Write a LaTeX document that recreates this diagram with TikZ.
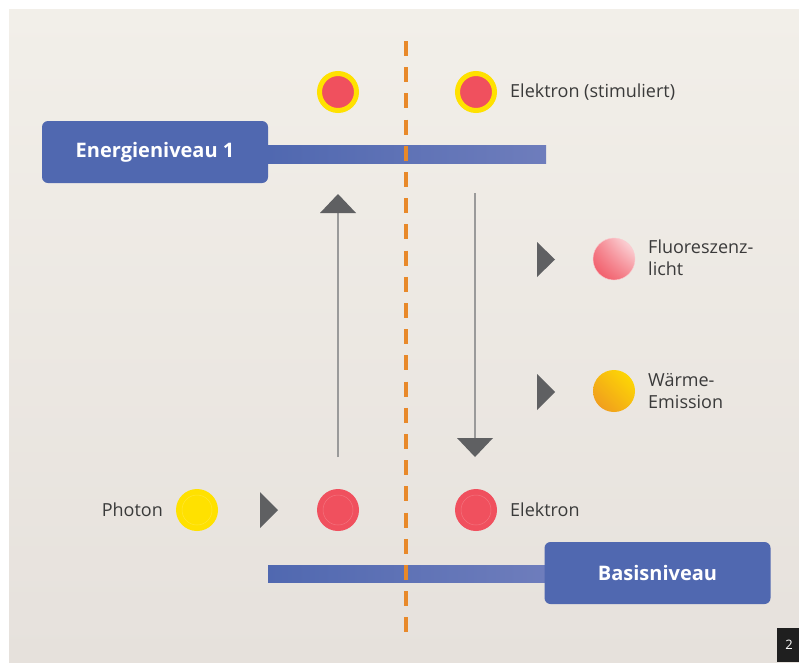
\documentclass[tikz,border=0pt]{standalone}
\usepackage{fontspec}
\setmainfont{Open Sans}
\usetikzlibrary{calc,shadings}
\definecolor{bgtop}{HTML}{F2EFE9}
\definecolor{bgbot}{HTML}{E6E1DC}
\definecolor{levelblue}{HTML}{5068B0}
\definecolor{barright}{HTML}{6E7DBC}
\definecolor{dashorange}{HTML}{E8892A}
\definecolor{elred}{HTML}{F0505E}
\definecolor{phyellow}{HTML}{FFE100}
\definecolor{warmorange}{HTML}{EE9322}
\definecolor{headgrey}{HTML}{5F6062}
\definecolor{linegrey}{HTML}{9A9A9A}
\definecolor{txtgrey}{HTML}{3A3A3A}
\tikzset{
  levelbox/.style={fill=levelblue, rounded corners=6pt, minimum width=226pt, minimum height=62pt, inner sep=0pt, text=white, font=\fontsize{20}{24}\selectfont\bfseries},
  levelbar/.style={left color=levelblue, right color=barright, draw=none},
  stimel/.style={circle, fill=elred, draw=phyellow, line width=5pt, minimum size=37pt, inner sep=0pt},
  electron/.style={circle, fill=elred, minimum size=42pt, inner sep=0pt},
  photonball/.style={circle, fill=phyellow, minimum size=42pt, inner sep=0pt},
  innerring/.style={draw=white, draw opacity=0.2, line width=0.5pt},
  lbl/.style={text=txtgrey, font=\fontsize{18}{22}\selectfont, inner sep=0pt},
  playhead/.style={fill=headgrey, draw=none},
  vline/.style={draw=linegrey, line width=2pt},
  dashline/.style={draw=dashorange, line width=4.5pt, dash pattern=on 15pt off 11.2pt},
}
\begin{document}
\begin{tikzpicture}[x=1pt, y=-1pt]
\useasboundingbox (0,0) rectangle (799,662);
\fill[white] (0,0) rectangle (799,662);
\shade[top color=bgtop, bottom color=bgbot] (9,9) rectangle (799,662);

% energy bars
\fill[levelbar] (268,145) rectangle (546,163);
\fill[levelbar] (268,565) rectangle (546,582);

% level boxes
\node[levelbox] (lev1) at (155,152) {Energieniveau 1};
\node[levelbox] (base) at (657.5,573) {Basisniveau};

% dashed separator
\coordinate (dtop) at (406,41);
\coordinate (dbot) at (406,634);
\draw[dashline] (dtop) -- (dbot);

% stimulated electrons
\node[stimel] (s1) at (338,92) {};
\node[stimel] (s2) at (476,92) {};
\node[lbl, anchor=west] (ls) at (510,92) {Elektron (stimuliert)};

% ground electrons and photon
\node[photonball] (ph) at (197,510) {};
\draw[innerring] (ph.center) circle (15pt);
\node[lbl, anchor=east] (lph) at (163,510) {Photon};
\node[electron] (e1) at (338,510) {};
\draw[innerring] (e1.center) circle (15pt);
\node[electron] (e2) at (476,510) {};
\draw[innerring] (e2.center) circle (15pt);
\node[lbl, anchor=west] (le) at (510,510) {Elektron};

% up arrow
\coordinate (upstart) at (338,457);
\coordinate (upend) at (338,212);
\draw[vline] (upstart) -- (upend);
\fill[playhead] (320,213) -- (338,194) -- (356,213) -- cycle;

% down arrow
\coordinate (dnstart) at (475,193);
\coordinate (dnend) at (475,440);
\draw[vline] (dnstart) -- (dnend);
\fill[playhead] (457,438) -- (493,438) -- (475,457) -- cycle;

% play triangles
\fill[playhead] (537,242) -- (555,259.5) -- (537,277) -- cycle;
\fill[playhead] (537,374) -- (555,392) -- (537,410) -- cycle;
\fill[playhead] (260,492) -- (278,510) -- (260,528) -- cycle;

% fluorescence ball
\node[circle, minimum size=42pt, inner sep=0pt] (fl) at (614,259) {};
\shade[upper right=white!90!elred, lower left=elred, upper left=elred!70!white, lower right=elred!70!white] (fl.center) circle (21pt);
\draw[elred!30!white, line width=0.4pt] (fl.center) circle (21pt);
\node[lbl, anchor=west, align=left] (lfl) at (648,258) {Fluoreszenz-\\licht};

% heat ball
\node[circle, minimum size=42pt, inner sep=0pt] (wm) at (614,391) {};
\shade[upper right=phyellow, lower left=warmorange, upper left=warmorange!50!phyellow, lower right=warmorange!50!phyellow] (wm.center) circle (21pt);
\node[lbl, anchor=west, align=left] (lwm) at (648,391) {Wärme-\\Emission};

% page number
\fill[black!88] (777,628) rectangle (799,662);
\node[text=white, font=\fontsize{13}{15}\selectfont, inner sep=0pt] (pg) at (789,645) {2};
\end{tikzpicture}
\end{document}
